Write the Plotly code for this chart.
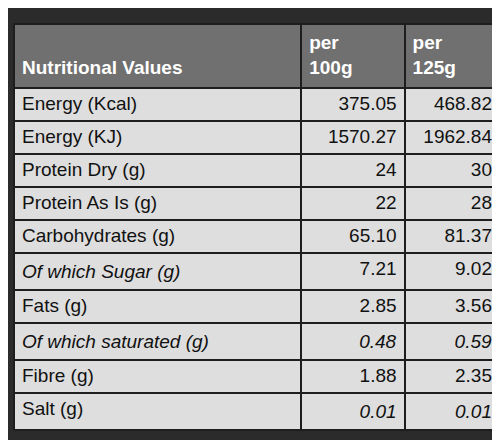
import plotly.graph_objects as go

nutrients = ["Energy (Kcal)", "Energy (KJ)", "Protein Dry (g)", "Protein As Is (g)",
             "Carbohydrates (g)", "<i>Of which Sugar (g)</i>", "Fats (g)",
             "<i>Of which saturated (g)</i>", "Fibre (g)", "Salt (g)"]
per_100g = ["375.05", "1570.27", "24", "22", "65.10", "7.21", "2.85", "<i>0.48</i>", "1.88", "<i>0.01</i>"]
per_125g = ["468.82", "1962.84", "30", "28", "81.37", "9.02", "3.56", "<i>0.59</i>", "2.35", "<i>0.01</i>"]
headers = ["&nbsp;<br><b>Nutritional Values</b>", "<b>per</b><br><b>100g</b>", "<b>per</b><br><b>125g</b>"]

fig = go.Figure(go.Table(
    columnwidth=[286, 103, 95],
    header=dict(values=headers, fill_color="#707070", line_color="#1e1e1e", line_width=2,
                font=dict(family="Liberation Sans", size=19, color="white"),
                align="left", height=64),
    cells=dict(values=[nutrients, per_100g, per_125g], fill_color="#dedede",
               line_color="#1e1e1e", line_width=2,
               font=dict(family="Liberation Sans", size=19, color="#111111"),
               align=["left", "right", "right"], height=33),
))
fig.update_layout(width=500, height=440, paper_bgcolor="#2b2b2b",
                  margin=dict(l=6, r=8, t=16, b=0))
fig.write_html("out.html")
